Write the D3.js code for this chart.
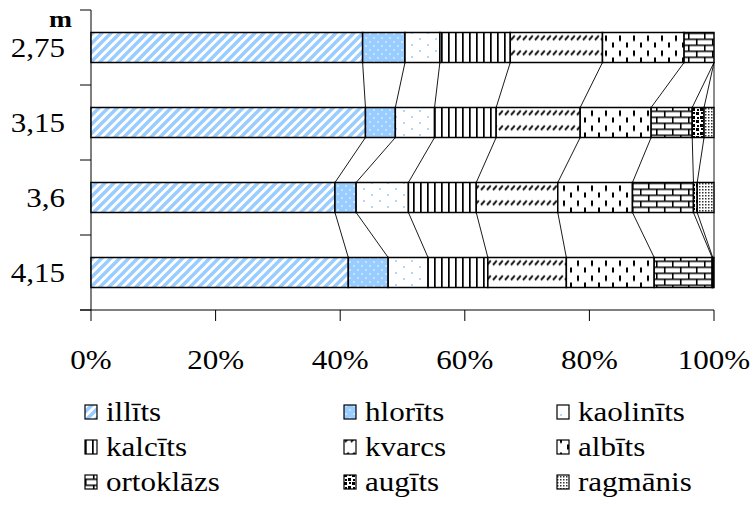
<!DOCTYPE html>
<html>
<head>
<meta charset="utf-8">
<script src="https://cdn.jsdelivr.net/npm/d3@7"></script>
<style>
  body { margin: 0; background: #fff; }
</style>
</head>
<body>
<div id="chart_area"></div>
<script>
// depths (m) top to bottom
var depths = ["2,75", "3,15", "3,6", "4,15"];
var minerals = ["illīts", "hlorīts", "kaolinīts", "kalcīts", "kvarcs", "albīts", "ortoklāzs", "augīts", "ragmānis"];

// % per depth
var illits    = [43.6, 44.1, 39.2, 41.3];
var hlorits   = [6.8, 4.8, 3.4, 6.4];
var kaolinits = [5.6, 6.3, 8.4, 6.4];
var kalcits   = [11.3, 9.9, 10.9, 9.6];
var kvarcs    = [14.8, 13.5, 13.1, 12.6];
var albits    = [13.1, 11.4, 12.0, 14.1];
var ortoklazs = [4.8, 6.6, 9.8, 9.3];
var augits    = [0, 1.9, 0.6, 0.1];
var ragmanis  = [0, 1.6, 2.7, 0.2];

var xTicks = [0, 0.2, 0.4, 0.6, 0.8, 1];

var series = [illits, hlorits, kaolinits, kalcits, kvarcs, albits, ortoklazs, augits, ragmanis];
var rows = depths.map(function (d, i) {
    var r = { depth: d };
    minerals.forEach(function (m, j) { r[m] = series[j][i]; });
    return r;
});

var width = 755, height = 506;
var FONT = "Liberation Serif";
var sx = 1.15;   // the original text is a bit stretched sideways

var svg = d3.select("#chart_area")
    .append("svg")
    .attr("width", width)
    .attr("height", height);

var x = d3.scaleLinear().domain([0, 1]).range([91, 714]);
var y = d3.scaleBand().domain(depths).range([10, 310]).paddingInner(0.6).paddingOuter(0.3);

var stack = d3.stack().keys(minerals).offset(d3.stackOffsetExpand);
var layers = stack(rows);

// ---- patterns ----
var defs = svg.append("defs");
var barTop = y(depths[0]);

function pat(id, w, h, py) {
    var p = defs.append("pattern")
        .attr("id", id)
        .attr("patternUnits", "userSpaceOnUse")
        .attr("width", w).attr("height", h)
        .attr("y", py || 0);
    p.append("rect").attr("width", w).attr("height", h).attr("fill", "#fff");
    return p;
}

var p0 = pat("p0", 9, 9);
p0.append("path").attr("d", "M-3,3L3,-3M0,9L9,0M6,12L12,6")
    .attr("stroke", "#99ccff").attr("stroke-width", 3.4);

var p1 = pat("p1", 8, 8);
p1.select("rect").attr("fill", "#99ccff");
p1.append("circle").attr("cx", 2).attr("cy", 2).attr("r", 0.8).attr("fill", "#fff");
p1.append("circle").attr("cx", 6).attr("cy", 6).attr("r", 0.8).attr("fill", "#fff");

var p2 = pat("p2", 16, 12);
p2.append("circle").attr("cx", 4).attr("cy", 3).attr("r", 1).attr("fill", "#99ccff");
p2.append("circle").attr("cx", 12).attr("cy", 9).attr("r", 1).attr("fill", "#99ccff");

var p3 = pat("p3", 7, 7);
p3.append("rect").attr("x", 0).attr("width", 1.7).attr("height", 7).attr("fill", "#000");

var p4 = pat("p4", 6, 15, barTop);
p4.append("path").attr("d", "M1,7.5L4.8,3.2").attr("stroke", "#111").attr("stroke-width", 1.9);

var p5 = pat("p5", 14, 15, barTop);
p5.append("rect").attr("x", 3).attr("y", 3).attr("width", 2).attr("height", 5.5).attr("fill", "#000");
p5.append("rect").attr("x", 10).attr("y", 10).attr("width", 2).attr("height", 5.5).attr("fill", "#000");

var p6 = pat("p6", 16, 12, barTop);
p6.append("path").attr("d", "M0,0.75H16M0,6.75H16M0.75,0V6.75M8.75,6.75V12")
    .attr("stroke", "#000").attr("stroke-width", 1.6).attr("fill", "none");

var p7 = pat("p7", 8, 8);
[[0, 0, 3, 3], [4, 4, 3, 3], [5, 0, 2, 2], [1, 5, 2, 2]].forEach(function (r) {
    p7.append("rect").attr("x", r[0]).attr("y", r[1]).attr("width", r[2]).attr("height", r[3]).attr("fill", "#000");
});

var p8 = pat("p8", 3, 3);
p8.append("rect").attr("width", 1.5).attr("height", 1.5).attr("fill", "#333");

// ---- axes ----
svg.append("line")
    .attr("x1", 80).attr("x2", 714).attr("y1", 310).attr("y2", 310)
    .attr("stroke", "#000").attr("stroke-width", 1);
svg.append("line")
    .attr("x1", 91).attr("x2", 91).attr("y1", 10).attr("y2", 310)
    .attr("stroke", "#000").attr("stroke-width", 1);

// y ticks at band boundaries
var yEdges = depths.map(function (d) { return y(d) - y.step() * y.paddingInner() / 2; });
yEdges.push(310);
svg.selectAll(".ytick").data(yEdges).enter().append("line")
    .attr("x1", 80).attr("x2", 91)
    .attr("y1", function (d) { return d; }).attr("y2", function (d) { return d; })
    .attr("stroke", "#000");

svg.selectAll(".xtick").data(xTicks).enter().append("line")
    .attr("x1", function (d) { return x(d); }).attr("x2", function (d) { return x(d); })
    .attr("y1", 310).attr("y2", 321)
    .attr("stroke", "#000");

svg.selectAll(".xlab").data(xTicks).enter().append("text")
    .attr("transform", function (d) { return "translate(" + x(d) + ",369) scale(" + sx + ",1)"; })
    .attr("text-anchor", "middle")
    .style("font-family", FONT)
    .style("font-size", "27px")
    .text(function (d) { return Math.round(d * 100) + "%"; });

svg.selectAll(".ylab").data(depths).enter().append("text")
    .attr("transform", function (d) { return "translate(65," + (y(d) + y.bandwidth() / 2 + 9) + ") scale(" + sx + ",1)"; })
    .attr("text-anchor", "end")
    .style("font-family", FONT)
    .style("font-size", "27px")
    .text(function (d) { return d; });

svg.append("text")
    .attr("transform", "translate(72,27) scale(" + sx + ",1)")
    .attr("text-anchor", "end")
    .style("font-family", FONT)
    .style("font-size", "24px")
    .style("font-weight", "bold")
    .text("m");

// ---- series lines ----
var links = [];
layers.forEach(function (layer) {
    for (var i = 0; i < depths.length - 1; i++) {
        links.push({ a: layer[i][1], b: layer[i + 1][1], i: i });
    }
});
svg.selectAll(".sline").data(links).enter().append("line")
    .attr("x1", function (d) { return x(d.a); })
    .attr("x2", function (d) { return x(d.b); })
    .attr("y1", function (d) { return y(depths[d.i]) + y.bandwidth(); })
    .attr("y2", function (d) { return y(depths[d.i + 1]); })
    .attr("stroke", "#000").attr("stroke-width", 0.9);

// ---- bars ----
var g = svg.selectAll(".layer").data(layers).enter().append("g")
    .attr("fill", function (d, i) { return "url(#p" + i + ")"; });

g.selectAll("rect").data(function (d) { return d; }).enter().append("rect")
    .attr("x", function (d) { return x(d[0]); })
    .attr("y", function (d) { return y(d.data.depth); })
    .attr("width", function (d) { return x(d[1]) - x(d[0]); })
    .attr("height", y.bandwidth())
    .attr("stroke", "#000")
    .attr("stroke-width", 1.5);

// ---- legend ----
var legX = [85, 344, 557], legY = [412, 447, 482];
var leg = svg.selectAll(".leg").data(minerals).enter().append("g")
    .attr("transform", function (d, i) {
        return "translate(" + legX[i % 3] + "," + legY[Math.floor(i / 3)] + ")";
    });
leg.append("rect")
    .attr("x", 0).attr("y", -7).attr("width", 12).attr("height", 14)
    .attr("fill", function (d, i) { return "url(#p" + i + ")"; })
    .attr("stroke", "#000").attr("stroke-width", 1.2);
leg.append("text")
    .attr("transform", "translate(21,9) scale(" + sx + ",1)")
    .style("font-family", FONT)
    .style("font-size", "27px")
    .text(function (d) { return d; });
</script>
</body>
</html>
